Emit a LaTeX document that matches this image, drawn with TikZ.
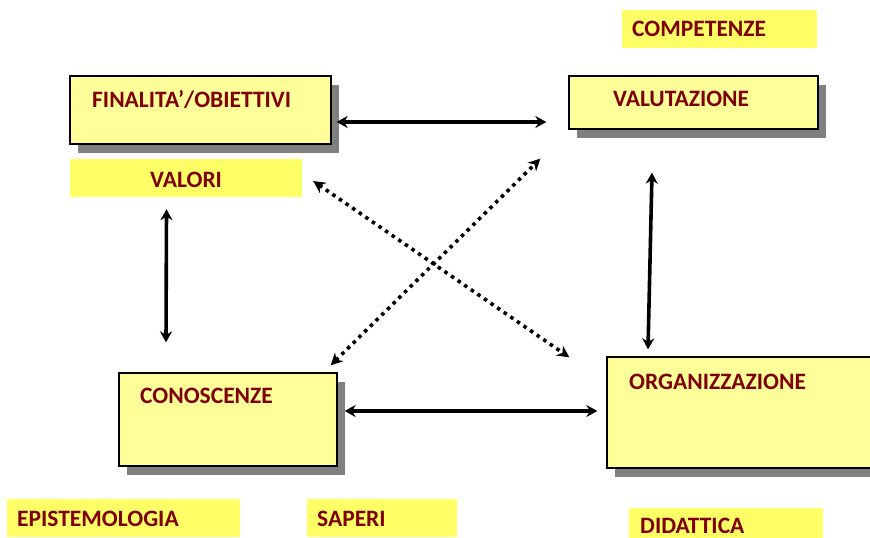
\documentclass[tikz,border=0pt]{standalone}
\usepackage{fontspec}
\setmainfont{Carlito}
\usetikzlibrary{arrows.meta,calc,shadows}
\definecolor{txtred}{HTML}{7F0000}
\definecolor{boxyellow}{HTML}{FFFF99}
\definecolor{stripyellow}{HTML}{FFFF66}
\definecolor{shadowgray}{HTML}{808080}
\tikzset{
  bigbox/.style={draw=black, line width=1.3pt, fill=boxyellow, inner sep=0pt,
    drop shadow={shadow xshift=8pt, shadow yshift=-9pt, fill=shadowgray, opacity=1}},
  strip/.style={fill=stripyellow, inner sep=0pt},
  lbl/.style={anchor=base west, inner sep=0pt, text=txtred, font=\fontsize{23.5}{26}\selectfont\bfseries},
  arr/.style={line width=3.6pt, {Stealth[length=11pt,width=12pt]}-{Stealth[length=11pt,width=12pt]}},
  dotarr/.style={line width=3.6pt, dash pattern=on 3.5pt off 4.5pt, {Stealth[length=12pt,width=12pt]}-{Stealth[length=12pt,width=12pt]}}
}
\begin{document}
\begin{tikzpicture}[x=1pt,y=-1pt]
\useasboundingbox (0,0) rectangle (870,538);
% boxes
\node[bigbox, minimum width=261pt, minimum height=68pt] (fin) at (200.5,110) {};
\node[bigbox, minimum width=249pt, minimum height=53pt] (val) at (693.5,102.5) {};
\node[bigbox, minimum width=218pt, minimum height=93pt] (con) at (228,419.5) {};
\node[bigbox, minimum width=280pt, minimum height=111pt] (org) at (747,412.5) {};
% strips
\node[strip, minimum width=232pt, minimum height=38pt] (valori) at (186,178) {};
\node[strip, minimum width=195pt, minimum height=38pt] (comp) at (719.5,29) {};
\node[strip, minimum width=233pt, minimum height=38pt] (epi) at (123.5,518) {};
\node[strip, minimum width=150pt, minimum height=38pt] (sap) at (382,518) {};
\node[strip, minimum width=194pt, minimum height=38pt] (did) at (726,527) {};
% labels
\node[lbl] (tfin) at (92,107.5) {FINALITA’/OBIETTIVI};
\node[lbl] (tval) at (613,106.5) {VALUTAZIONE};
\node[lbl] (tcon) at (140,403.5) {CONOSCENZE};
\node[lbl] (torg) at (629,389.5) {ORGANIZZAZIONE};
\node[lbl] (tvalori) at (150,187.5) {VALORI};
\node[lbl] (tcomp) at (632,36.5) {COMPETENZE};
\node[lbl] (tepi) at (17,526.5) {EPISTEMOLOGIA};
\node[lbl] (tsap) at (317,526.5) {SAPERI};
\node[lbl] (tdid) at (640,533.5) {DIDATTICA};
% connectors
\draw[arr] ($(fin.east)+(5,12)$) -- ($(val.west)+(-22,19.5)$);
\draw[arr] ($(valori.south)+(-19.5,12)$) -- ($(con.north)+(-62,-30)$);
\draw[arr] ($(val.south)+(-41.5,43)$) -- ($(org.north)+(-99,-7)$);
\draw[arr] ($(con.east)+(7,-8.5)$) -- ($(org.west)+(-9,-1.5)$);
\draw[dotarr] ($(valori.east)+(11,3)$) -- ($(org.north west)+(-37,1)$);
\draw[dotarr] ($(con.north east)+(-7,-7)$) -- ($(val.south west)+(-28,29)$);
\end{tikzpicture}
\end{document}
